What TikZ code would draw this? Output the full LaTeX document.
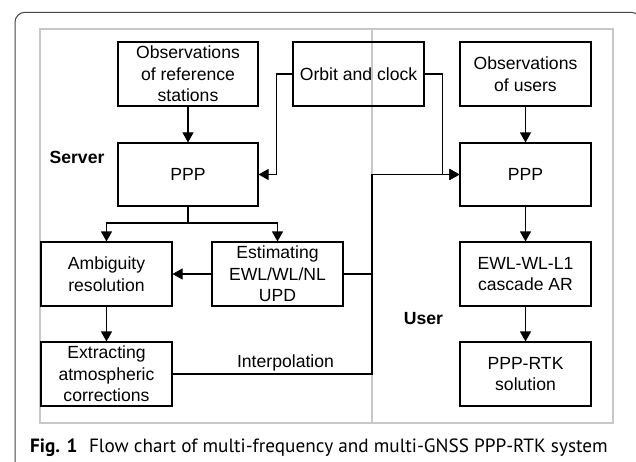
\documentclass[tikz,border=0pt]{standalone}
\usepackage{fontspec}
\setmainfont{Liberation Sans}
\newfontfamily\capfont{PT Sans}
\usetikzlibrary{arrows.meta}
\definecolor{framegray}{RGB}{70,70,70}
\definecolor{panelgray}{RGB}{200,200,200}
\begin{document}
\begin{tikzpicture}[x=1pt,y=-1pt,
  box/.style={draw=black, line width=1.1pt, align=center, inner sep=0pt,
    font=\fontsize{17.6}{21.5}\selectfont, minimum width=131pt, minimum height=64pt},
  conn/.style={line width=1.1pt, -{Triangle[length=10pt,width=11pt]}},
  plain/.style={line width=1.1pt},
  lbl/.style={font=\fontsize{17.6}{21.5}\selectfont\bfseries, inner sep=0pt},
  txt/.style={font=\fontsize{17.6}{21.5}\selectfont, inner sep=0pt}]
\useasboundingbox (0,0) rectangle (636,462);
\begin{scope}
  \clip (0,0) rectangle (636,462);
  \draw[framegray, line width=1pt, rounded corners=10pt] (15,480) -- (15,12.3) -- (641,12.3) -- (641,480);
\end{scope}
\draw[panelgray, line width=1.5pt] (40,29) rectangle (613,423);
\draw[panelgray, line width=1.5pt] (372,29) -- (372,423);

\node[box, minimum width=140pt] (obsref) at (188,74) {Observations\\of reference\\stations};
\node[box] (orbit) at (358.5,74) {Orbit and clock};
\node[box] (obsuser) at (525.5,74) {Observations\\of users};
\node[box, minimum width=140pt, minimum height=63pt] (sppp) at (188,174.5) {PPP};
\node[box, minimum height=63pt] (uppp) at (525.5,174.5) {PPP};
\node[box] (ambig) at (106.5,274) {Ambiguity\\resolution};
\node[box] (estim) at (277.5,274) {Estimating\\EWL/WL/NL\\UPD};
\node[box] (extract) at (106.5,374) {Extracting\\atmospheric\\corrections};
\node[box] (ewl) at (525.5,274) {EWL-WL-L1\\cascade AR};
\node[box] (rtk) at (525.5,374) {PPP-RTK\\solution};

\node[lbl] (server) at (77,157) {Server};
\node[lbl] (user) at (423.5,319) {User};
\node[txt, anchor=base] (interp) at (285.5,367) {Interpolation};

\coordinate (split) at (188,223);
\coordinate (join) at (372,174.5);

\draw[conn] (obsref) -- (sppp);
\draw[conn] (obsuser) -- (uppp);
\draw[conn] (orbit.west) -- ++(-16,0) |- (sppp.east);
\draw[conn] (orbit.east) -- ++(18,0) |- (uppp.west);
\draw[plain] (sppp.south) -- (split);
\draw[conn] (split) -| (ambig.north);
\draw[conn] (split) -| (estim.north);
\draw[conn] (estim.west) -- (ambig.east);
\draw[conn] (ambig) -- (extract);
\draw[plain] (extract.east) -| (join);
\draw[conn] (join) -- (uppp.west);
\draw[plain] (estim.east) -- (estim.east -| join);
\draw[conn] (uppp) -- (ewl);
\draw[conn] (ewl) -- (rtk);

\node[anchor=base west, inner sep=0pt, font=\capfont\fontsize{19.2}{22}\selectfont] (caption) at (30,452)
  {\textbf{Fig. 1}\hspace{0.6em}Flow chart of multi-frequency and multi-GNSS PPP-RTK system};
\end{tikzpicture}
\end{document}
